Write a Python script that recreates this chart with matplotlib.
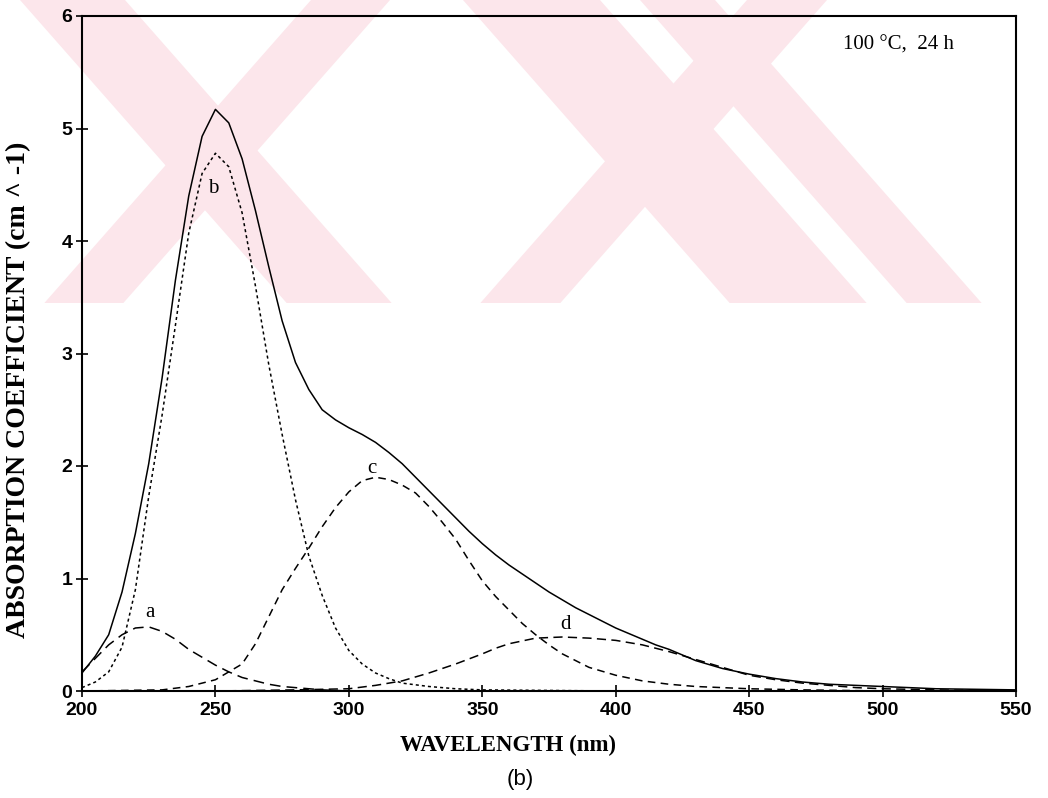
import matplotlib
matplotlib.use('Agg')
import matplotlib.pyplot as plt
from matplotlib.patches import Polygon

# total absorption (solid line)
wl_total = [200, 205, 210, 215, 220, 225, 230, 235, 240, 245, 250, 255, 260, 265,
            270, 275, 280, 285, 290, 295, 300, 305, 310, 315, 320, 325, 330, 335,
            340, 345, 350, 355, 360, 365, 370, 375, 380, 385, 390, 395, 400, 405,
            410, 415, 420, 430, 440, 450, 460, 470, 480, 490, 500, 520, 550]
abs_total = [0.16, 0.31, 0.50, 0.88, 1.40, 2.02, 2.78, 3.65, 4.40, 4.93, 5.17, 5.05,
             4.73, 4.27, 3.77, 3.29, 2.92, 2.68, 2.50, 2.41, 2.34, 2.28, 2.21, 2.12,
             2.02, 1.90, 1.78, 1.66, 1.54, 1.42, 1.31, 1.21, 1.12, 1.04, 0.96, 0.88,
             0.81, 0.74, 0.68, 0.62, 0.56, 0.51, 0.46, 0.41, 0.37, 0.27, 0.20, 0.15,
             0.11, 0.08, 0.06, 0.05, 0.04, 0.02, 0.01]

# band a
wl_a = [200, 205, 210, 215, 220, 225, 230, 235, 240, 245, 250, 255, 260, 265, 270,
        275, 280, 290, 300, 550]
abs_a = [0.17, 0.29, 0.41, 0.50, 0.56, 0.57, 0.53, 0.46, 0.37, 0.30, 0.23, 0.17,
         0.12, 0.09, 0.06, 0.04, 0.03, 0.01, 0.0, 0.0]

# band b
wl_b = [200, 205, 210, 215, 220, 225, 230, 235, 240, 245, 250, 255, 260, 265, 270,
        275, 280, 285, 290, 295, 300, 305, 310, 315, 320, 330, 340, 350, 400, 550]
abs_b = [0.03, 0.08, 0.17, 0.39, 0.90, 1.73, 2.45, 3.25, 4.07, 4.60, 4.78, 4.66,
         4.25, 3.60, 2.90, 2.28, 1.70, 1.20, 0.85, 0.56, 0.36, 0.24, 0.16, 0.11,
         0.07, 0.04, 0.02, 0.01, 0.0, 0.0]

# band c
wl_c = [200, 230, 240, 250, 255, 260, 265, 270, 275, 280, 285, 290, 295, 300, 305,
        310, 315, 320, 325, 330, 335, 340, 345, 350, 355, 360, 365, 370, 375, 380,
        385, 390, 400, 410, 420, 430, 440, 450, 470, 500, 550]
abs_c = [0.0, 0.01, 0.04, 0.10, 0.17, 0.24, 0.42, 0.66, 0.90, 1.09, 1.27, 1.46,
         1.63, 1.77, 1.87, 1.90, 1.88, 1.83, 1.76, 1.64, 1.50, 1.35, 1.16, 0.98,
         0.84, 0.72, 0.60, 0.50, 0.41, 0.33, 0.27, 0.21, 0.14, 0.09, 0.06, 0.04,
         0.03, 0.02, 0.01, 0.0, 0.0]

# band d
wl_d = [200, 250, 280, 300, 310, 320, 330, 340, 350, 355, 360, 370, 380, 390, 400,
        410, 420, 430, 440, 450, 460, 470, 480, 490, 500, 520, 550]
abs_d = [0.0, 0.0, 0.01, 0.02, 0.05, 0.09, 0.16, 0.24, 0.33, 0.38, 0.42, 0.47, 0.48,
         0.47, 0.45, 0.41, 0.35, 0.28, 0.21, 0.14, 0.10, 0.07, 0.05, 0.03, 0.02,
         0.01, 0.0]

peak_labels = ['a', 'b', 'c', 'd']
peak_label_pos = [(225.5, 0.70), (249, 4.47), (308.7, 1.98), (381, 0.59)]

W, H = 1048, 798
fig = plt.figure(figsize=(W / 100, H / 100), dpi=100)

# faint pink watermark from the scanned page (pixel coords, y down)
pink = '#fce6eb'
k = 0.88
cut = 303
bands = [(20, 125, 1), (311, 390, -1), (463, 600, 1), (747, 827, -1), (640, 715, 1)]
for x0, x1, s in bands:
    pts = [(x0, 0), (x1, 0), (x1 + s * k * cut, cut), (x0 + s * k * cut, cut)]
    pts = [(px / W, 1 - py / H) for px, py in pts]
    fig.add_artist(Polygon(pts, closed=True, transform=fig.transFigure,
                           facecolor=pink, edgecolor='none', zorder=-5))

ax = fig.add_axes([82 / W, 1 - 691 / H, (1016 - 82) / W, (691 - 16) / H])
ax.patch.set_alpha(0)

ax.plot(wl_total, abs_total, color='black', lw=1.1)
ax.plot(wl_a, abs_a, color='black', lw=1.1, dashes=(7, 4))
ax.plot(wl_b, abs_b, color='black', lw=1.1, dashes=(2, 2))
ax.plot(wl_c, abs_c, color='black', lw=1.1, dashes=(5, 3.5))
ax.plot(wl_d, abs_d, color='black', lw=1.1, dashes=(6, 3.5))

for lab, (x, y) in zip(peak_labels, peak_label_pos):
    ax.text(x, y, lab, ha='center', va='center', fontsize=15,
            family='Liberation Serif')

ax.set_xlim(200, 550)
ax.set_ylim(0, 6)
ax.set_xticks([200, 250, 300, 350, 400, 450, 500, 550])
ax.set_yticks([0, 1, 2, 3, 4, 5, 6])
ax.tick_params(direction='inout', length=8, width=1.2, colors='black')
for t in ax.get_xticklabels():
    t.set_fontfamily('Liberation Sans')
    t.set_fontsize(14)
    t.set_fontweight('bold')
for t in ax.get_yticklabels():
    t.set_fontfamily('Liberation Sans')
    t.set_fontsize(14)
    t.set_fontweight('bold')
ax.tick_params(axis='x', pad=4)
ax.tick_params(axis='y', pad=3)
for sp in ax.spines.values():
    sp.set_linewidth(1.5)

ax.text(485, 5.74, '100 \u00b0C,  24 h', fontsize=15, family='Liberation Serif',
        ha='left', va='center')

fig.text(508 / W, 1 - 745 / H, 'WAVELENGTH (nm)', ha='center', va='center',
         fontsize=16.5, fontweight='bold', family='Liberation Serif')
fig.text(19 / W, 1 - 390 / H, 'ABSORPTION COEFFICIENT (cm ^ -1)', ha='center',
         va='center', rotation=90, fontsize=20, fontweight='bold',
         family='Liberation Serif')
fig.text(520 / W, 1 - 780 / H, '(b)', ha='center', va='center', fontsize=16,
         family='Liberation Sans')

fig.savefig('out.png', dpi=100)
